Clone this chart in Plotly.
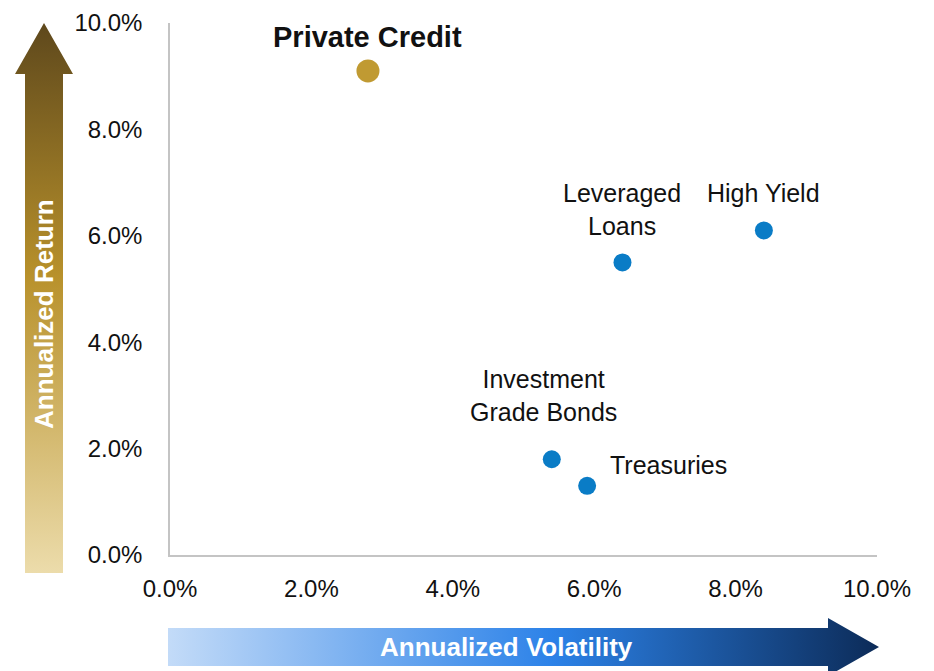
import base64
import plotly.graph_objects as go

# ---- data (percent) ----
names = ["Private Credit", "High Yield", "Leveraged Loans", "Investment Grade Bonds", "Treasuries"]
volatility = [2.8, 8.4, 6.4, 5.4, 5.9]
returns = [9.1, 6.1, 5.5, 1.8, 1.3]
tick_vals = [0, 2, 4, 6, 8, 10]
tick_text = ["0.0%", "2.0%", "4.0%", "6.0%", "8.0%", "10.0%"]

OFF = 8  # page body margin
W, H = 934 - OFF, 671 - OFF
ML, MT = 170 - OFF, 23 - OFF
PR, PB = 877 - OFF, 555 - OFF  # plot right / bottom edges in figure px
MR, MB = W - PR, H - PB
PW, PH = W - ML - MR, H - MT - MB

def px(xp):  # reference-pixel x -> paper
    return (xp - OFF - ML) / PW

def py(yp):  # reference-pixel y -> paper
    return (PB - (yp - OFF)) / PH

GOLD = "#c09a32"
BLUE = "#0a7cc6"
FONT = "Liberation Sans, Arial, sans-serif"
NARROW = "Liberation Sans Narrow, Arial Narrow, Liberation Sans, sans-serif"

fig = go.Figure()

fig.add_trace(go.Scatter(
    x=volatility[:1], y=returns[:1], mode="markers",
    marker=dict(size=23, color=GOLD), hoverinfo="skip", showlegend=False))
fig.add_trace(go.Scatter(
    x=volatility[1:], y=returns[1:], mode="markers",
    marker=dict(size=18, color=BLUE), hoverinfo="skip", showlegend=False))

label_cfg = {
    "Private Credit": dict(text="<b>Private Credit</b>", xs=0, ys=34, xa="center", size=29),
    "High Yield": dict(text="High Yield", xs=0, ys=37, xa="center", size=25),
    "Leveraged Loans": dict(text="Leveraged<br>Loans", xs=0, ys=53, xa="center", size=25),
    "Investment Grade Bonds": dict(text="Investment<br>Grade Bonds", xs=-8, ys=64, xa="center", size=25),
    "Treasuries": dict(text="Treasuries", xs=21, ys=21, xa="left", size=25),
}
for n, xv, yv in zip(names, volatility, returns):
    c = label_cfg[n]
    fig.add_annotation(x=xv, y=yv, xref="x", yref="y", text=c["text"], showarrow=False,
                       xanchor=c["xa"], yanchor="middle", xshift=c["xs"], yshift=c["ys"],
                       font=dict(family=FONT, size=c["size"], color="#111111"))

def svg_uri(svg):
    return "data:image/svg+xml;base64," + base64.b64encode(svg.encode()).decode()

# vertical arrow box (ref px): x 15..73, y 23..573
vw, vh = 58, 550
v_svg = f'''<svg xmlns="http://www.w3.org/2000/svg" width="{vw}" height="{vh}" viewBox="0 0 {vw} {vh}" preserveAspectRatio="none">
<defs><linearGradient id="g" x1="0" y1="0" x2="0" y2="1">
<stop offset="0" stop-color="#5e481c"/><stop offset="0.46" stop-color="#b8912b"/><stop offset="1" stop-color="#ecdcab"/>
</linearGradient></defs>
<polygon points="29,0 58,51 48,51 48,{vh} 10,{vh} 10,51 0,51" fill="url(#g)"/></svg>'''

# horizontal arrow box (ref px): x 168..879, y 618..676
hw, hh = 711, 58
h_svg = f'''<svg xmlns="http://www.w3.org/2000/svg" width="{hw}" height="{hh}" viewBox="0 0 {hw} {hh}" preserveAspectRatio="none">
<defs><linearGradient id="g" x1="0" y1="0" x2="1" y2="0">
<stop offset="0" stop-color="#c3dbf8"/><stop offset="0.54" stop-color="#2c82e8"/><stop offset="1" stop-color="#0c2b58"/>
</linearGradient></defs>
<polygon points="0,10 660,10 660,0 {hw},29 660,{hh} 660,48 0,48" fill="url(#g)"/></svg>'''

fig.add_layout_image(dict(source=svg_uri(v_svg), xref="paper", yref="paper",
                          x=px(15), y=py(23), sizex=vw / PW, sizey=vh / PH,
                          xanchor="left", yanchor="top", sizing="stretch", layer="below"))
fig.add_layout_image(dict(source=svg_uri(h_svg), xref="paper", yref="paper",
                          x=px(168), y=py(618), sizex=hw / PW, sizey=hh / PH,
                          xanchor="left", yanchor="top", sizing="stretch", layer="below"))

fig.add_annotation(x=px(44), y=py(314), xref="paper", yref="paper", text="<b>Annualized Return</b>",
                   showarrow=False, textangle=-90, xanchor="center", yanchor="middle",
                   font=dict(family=NARROW, size=26, color="white"))
fig.add_annotation(x=px(506), y=py(647), xref="paper", yref="paper", text="<b>Annualized Volatility</b>",
                   showarrow=False, xanchor="center", yanchor="middle",
                   font=dict(family=NARROW, size=26, color="white"))

axis_common = dict(range=[0, 10], tickmode="array", tickvals=tick_vals, ticktext=tick_text,
                   showgrid=False, zeroline=False, showline=True, linecolor="#c4c4c4",
                   linewidth=1.5, ticks="", tickfont=dict(family=FONT, size=24, color="#111111"),
                   ticklabeloverflow="allow", automargin=False, fixedrange=True)
fig.update_xaxes(**axis_common, ticklabelstandoff=11)
fig.update_yaxes(**axis_common, ticklabelstandoff=21)

fig.update_layout(width=W, height=H, margin=dict(l=ML, r=MR, t=MT, b=MB, pad=0, autoexpand=False),
                  paper_bgcolor="white", plot_bgcolor="white", showlegend=False)

fig.write_html("out.html")
